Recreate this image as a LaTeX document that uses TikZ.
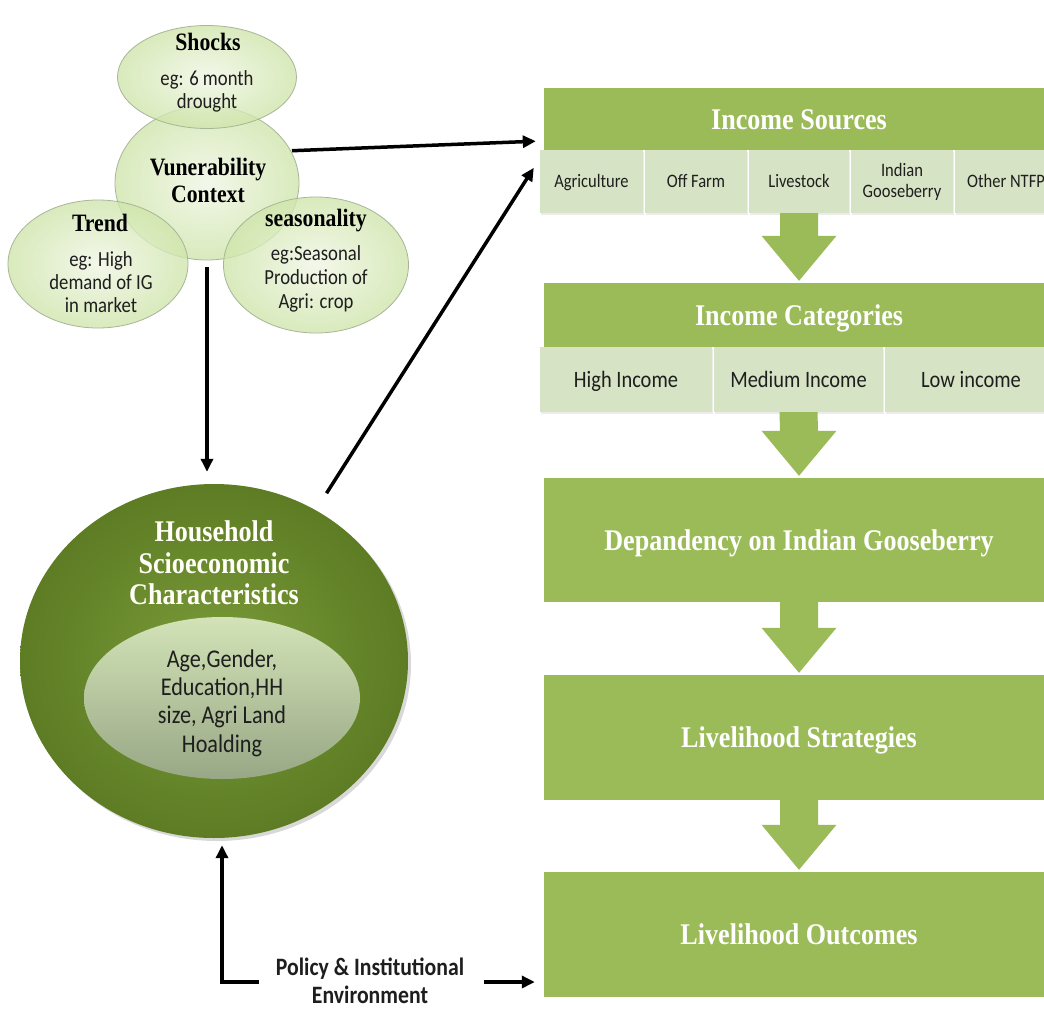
\documentclass[tikz,border=0pt]{standalone}
\usepackage{fontspec}
\usetikzlibrary{shapes.geometric,arrows.meta,calc,shadows}
\newfontfamily\hdfont{Liberation Serif}[FakeStretch=0.87]
\newfontfamily\snfont{Carlito}[FakeStretch=0.87]
\definecolor{boxgreen}{HTML}{9BBB59}
\definecolor{cellgreen}{HTML}{D7E3C5}
\definecolor{ctext}{HTML}{1E1E1E}
\definecolor{bubin}{HTML}{F0F6E4}
\definecolor{bubout}{HTML}{CFE5AA}
\definecolor{bubline}{HTML}{A7B699}
\definecolor{hhin}{HTML}{7A9B39}
\definecolor{hhout}{HTML}{5D7C24}
\definecolor{intop}{HTML}{D3E3B7}
\definecolor{inbot}{HTML}{98A785}
\newcommand\garrow[2]{%
  \fill[boxgreen] ($(#1.south)+(-19,0)$) -- ($(#1.south)+(19,0)$) --
    ($(#2.north)+(19,-47)$) -- ($(#2.north)+(37.5,-47)$) -- ($(#2.north)+(0,-2)$) --
    ($(#2.north)+(-37.5,-47)$) -- ($(#2.north)+(-19,-47)$) -- cycle;}
\begin{document}
\begin{tikzpicture}[x=1pt,y=-1pt,
  hdr/.style={rectangle, fill=boxgreen, inner sep=0pt, minimum width=510pt, text=white,
    text height=20pt, text depth=0pt, font=\hdfont\bfseries\fontsize{30}{32}\selectfont},
  cell/.style={rectangle, fill=cellgreen, inner sep=0pt, text=ctext,
    drop shadow={shadow xshift=1pt, shadow yshift=-1.5pt, opacity=0.15}},
  bub/.style={ellipse, inner sep=0pt, draw=bubline, line width=0.8pt,
    inner color=bubin, outer color=bubout, fill opacity=0.78},
  ttl/.style={font=\hdfont\bfseries\fontsize{25}{27}\selectfont, align=center, inner sep=0pt, text=black},
  eg/.style={font=\snfont\fontsize{21.5}{23}\selectfont, align=center, inner sep=0pt, text=ctext},
  conn/.style={line width=3.5pt, line join=miter, -{Triangle[length=13pt,width=12pt]}}
]
\clip (0,0) rectangle (1044,1012);
\fill[white] (0,0) rectangle (1044,1012);

% ---------- right column ----------
\node[hdr, minimum height=62pt] (isH) at (799,119) {Income Sources};
\begin{scope}[every node/.append style={cell, minimum height=63pt, font=\snfont\fontsize{19}{21}\selectfont}]
\node[minimum width=103pt, text height=12.5pt, text depth=0pt] (c1) at (591.5,181.5) {Agriculture};
\node[minimum width=102pt, text height=12.5pt, text depth=0pt] (c2) at (696,181.5) {Off Farm};
\node[minimum width=100pt, text height=12.5pt, text depth=0pt] (c3) at (799,181.5) {Livestock};
\node[minimum width=102pt, align=center] (c4) at (902,181.5) {Indian\\Gooseberry};
\node[minimum width=102pt, text height=12.5pt, text depth=0pt] (c5) at (1006,181.5) {Other NTFP};
\end{scope}

\node[hdr, minimum height=64pt] (icH) at (799,315) {Income Categories};
\begin{scope}[every node/.append style={cell, minimum height=65pt, text height=15pt, text depth=0pt, font=\snfont\fontsize{23.5}{25}\selectfont}]
\node[minimum width=172pt] (h1) at (626,379.5) {High Income};
\node[minimum width=169pt] (h2) at (798.5,379.5) {Medium Income};
\node[minimum width=172pt] (h3) at (971,379.5) {Low income};
\end{scope}

\node[hdr, minimum height=124pt] (dep) at (799,540) {Depandency on Indian Gooseberry};
\node[hdr, minimum height=125pt] (strat) at (799,737.5) {Livelihood Strategies};
\node[hdr, minimum height=125pt] (outc) at (799,934.5) {Livelihood Outcomes};

\garrow{c3}{icH}
\garrow{h2}{dep}
\garrow{dep}{strat}
\garrow{strat}{outc}

% ---------- vulnerability context ----------
\node[bub, minimum width=184pt, minimum height=154pt] (vul) at (207,183) {};
\node[bub, minimum width=179pt, minimum height=103pt] (shk) at (207,77) {};
\node[bub, minimum width=180pt, minimum height=128pt] (trd) at (98,264) {};
\node[bub, minimum width=185pt, minimum height=136pt] (sea) at (316,265) {};

\node[ttl] (shkT) at (208,41.5) {Shocks};
\node[eg] (shkD) at (207,91) {eg: 6 month\\drought};
\node[ttl] (vulT) at (208,180) {Vunerability\\Context};
\node[ttl] (trdT) at (100,223) {Trend};
\node[eg] (trdD) at (101,282.5) {eg: High\\demand of IG\\in market};
\node[ttl] (seaT) at (316,221) {seasonality};
\node[eg, font=\snfont\fontsize{21.5}{24}\selectfont] (seaD) at (316,278.5) {eg:Seasonal\\Production of\\Agri: crop};

% ---------- household ----------
\node[ellipse, inner sep=0pt, minimum width=388pt, minimum height=354pt,
  inner color=hhin, outer color=hhout,
  drop shadow={shadow xshift=3pt, shadow yshift=-3pt, opacity=0.3}] (hh) at (214,661) {};
\node[ellipse, inner sep=0pt, minimum width=276pt, minimum height=162pt,
  top color=intop, bottom color=inbot] (hhin) at (222,698) {};
\node[font=\hdfont\bfseries\fontsize{30}{31.5}\selectfont, text=white!97!yellow, align=center, inner sep=0pt] (hhT) at (214,563) {Household\\Scioeconomic\\Characteristics};
\node[font=\snfont\fontsize{25.5}{28.3}\selectfont, text=ctext, align=center, inner sep=0pt] (hhD) at (222,703) {Age,Gender,\\Education,HH\\size, Agri Land\\Hoalding};

% ---------- policy ----------
\node[font=\snfont\bfseries\fontsize{25}{28}\selectfont, text=ctext, align=center, inner ysep=0pt, inner xsep=17pt] (pol) at (370,981) {Policy \& Institutional\\Environment};

% ---------- connectors ----------
\draw[conn, shorten <=1pt] (vul.21) -- ($(isH.south west)+(-8,-9)$);
\draw[conn, shorten <=20pt] (hh.56) -- ($(c1.north west)+(-6,18)$);
\draw[conn, shorten <=7pt, shorten >=12pt] (vul.south) -- (vul.south |- hh.north);
\draw[conn] ($(pol.west)+(0,1)$) -| ($(hh.south)+(8,7)$);
\coordinate (pe) at ($(pol.east)+(3,1)$);
\draw[conn, shorten >=9pt] (pe) -- (pe -| outc.west);
\end{tikzpicture}
\end{document}
